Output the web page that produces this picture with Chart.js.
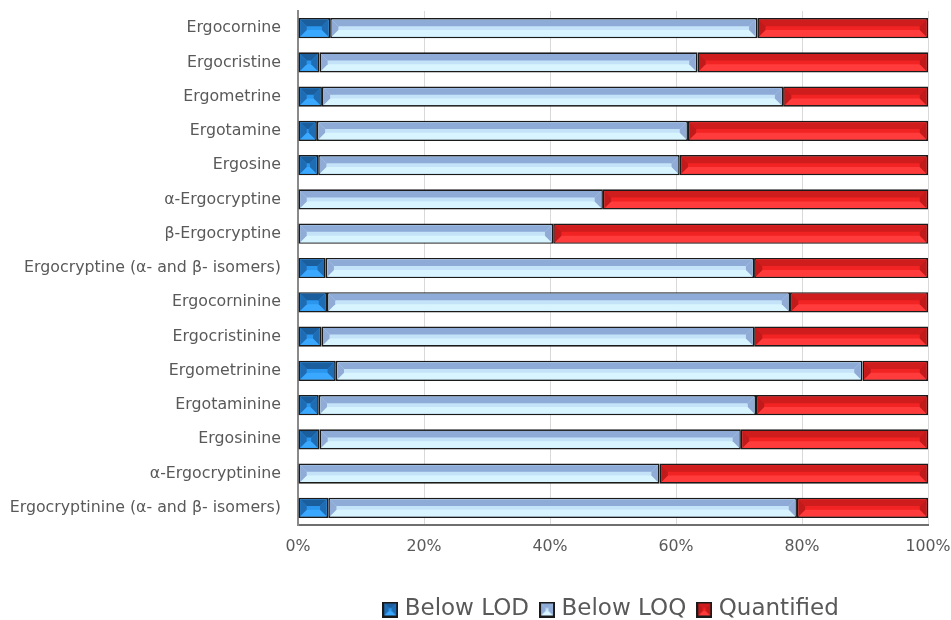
<!DOCTYPE html>
<html>
<head>
<meta charset="utf-8">
<script src="https://cdn.jsdelivr.net/npm/chart.js@4.4.1/dist/chart.umd.min.js"></script>
<style>
  html, body { margin: 0; padding: 0; background: #ffffff; overflow: hidden; }
  #wrap { width: 951px; height: 634px; }
</style>
</head>
<body>
<div id="wrap"><canvas id="chart" width="951" height="634"></canvas></div>
<script>
// Ergot alkaloids: share of samples per detection class (%)
const categories = [
  'Ergocornine',
  'Ergocristine',
  'Ergometrine',
  'Ergotamine',
  'Ergosine',
  'α-Ergocryptine',
  'β-Ergocryptine',
  'Ergocryptine (α- and β- isomers)',
  'Ergocorninine',
  'Ergocristinine',
  'Ergometrinine',
  'Ergotaminine',
  'Ergosinine',
  'α-Ergocryptinine',
  'Ergocryptinine (α- and β- isomers)'
];

const belowLOD   = [5.1, 3.4, 3.8, 3.0, 3.2, 0,    0,    4.4, 4.6, 3.7, 6.0, 3.3, 3.4, 0,    4.8];
const belowLOQ   = [67.8, 60.0, 73.2, 58.9, 57.4, 48.4, 40.5, 68.0, 73.5, 68.7, 83.6, 69.4, 66.9, 57.4, 74.4];
const quantified = [27.1, 36.6, 23.0, 38.1, 39.4, 51.6, 59.5, 27.6, 21.9, 27.6, 10.4, 27.3, 29.7, 42.6, 20.8];

const seriesNames = ['Below LOD', 'Below LOQ', 'Quantified'];
const axisTicks = [0, 20, 40, 60, 80, 100];

// facet colours for the bevelled bar look
const palettes = [
  { face: '#2a96ee', top: '#1b5e9e', bottom: '#3aa8ff', left: '#1f6cb3', right: '#1f6cb3' },
  { face: '#c4e3f8', top: '#8eabd8', bottom: '#d8f5ff', left: '#8fabd6', right: '#8fabd6' },
  { face: '#f22323', top: '#cf1d1d', bottom: '#ff3b3b', left: '#c21a1a', right: '#c21a1a' }
];
const borderCol = '#1a1a1a';
const borderW = 1.7;

function poly(ctx, pts, color) {
  ctx.beginPath();
  ctx.moveTo(pts[0][0], pts[0][1]);
  for (let i = 1; i < pts.length; i++) ctx.lineTo(pts[i][0], pts[i][1]);
  ctx.closePath();
  ctx.fillStyle = color;
  ctx.fill();
}

function bevel(ctx, l, t, r, b, pal, e) {
  const w = r - l, h = b - t;
  if (w <= 0 || h <= 0) return;
  const ex = Math.min(e, w / 2), ey = Math.min(e, h / 2);
  ctx.fillStyle = pal.face;
  ctx.fillRect(l, t, w, h);
  poly(ctx, [[l, t], [r, t], [r - ex, t + ey], [l + ex, t + ey]], pal.top);
  poly(ctx, [[l, b], [r, b], [r - ex, b - ey], [l + ex, b - ey]], pal.bottom);
  poly(ctx, [[l, t], [l + ex, t + ey], [l + ex, b - ey], [l, b]], pal.left);
  poly(ctx, [[r, t], [r - ex, t + ey], [r - ex, b - ey], [r, b]], pal.right);
}

// small bevelled squares for the legend
function legendSwatch(pal) {
  const c = document.createElement('canvas');
  c.width = 16; c.height = 16;
  const g = c.getContext('2d');
  g.fillStyle = borderCol;
  g.fillRect(0, 0, 16, 16);
  bevel(g, 2, 2, 14, 14, pal, 4.5);
  return c;
}

const bevelPlugin = {
  id: 'bevelBars',
  afterDatasetsDraw(chart) {
    const ctx = chart.ctx;
    ctx.save();
    chart.data.datasets.forEach((ds, i) => {
      const meta = chart.getDatasetMeta(i);
      if (meta.hidden) return;
      meta.data.forEach(el => {
        const p = el.getProps(['x', 'y', 'base', 'height'], true);
        const l = Math.min(p.x, p.base) + borderW;
        const r = Math.max(p.x, p.base) - borderW;
        const t = p.y - p.height / 2 + borderW;
        const b = p.y + p.height / 2 - borderW;
        bevel(ctx, l, t, r, b, palettes[i], 6.5);
      });
    });
    ctx.restore();
  }
};

const seriesData = [belowLOD, belowLOQ, quantified];
const datasets = seriesNames.map((name, i) => ({
  label: name,
  data: seriesData[i],
  backgroundColor: palettes[i].face,
  borderColor: borderCol,
  borderWidth: c => (c.raw > 0 ? borderW : 0),
  borderSkipped: false,
  barPercentage: 0.59,
  categoryPercentage: 1.0
}));

const font = 'DejaVu Sans';

new Chart(document.getElementById('chart'), {
  type: 'bar',
  data: { labels: categories, datasets },
  plugins: [bevelPlugin],
  options: {
    indexAxis: 'y',
    responsive: false,
    animation: false,
    devicePixelRatio: 1,
    layout: { padding: { top: 11, right: 0, bottom: 3, left: 0 } },
    scales: {
      x: {
        stacked: true,
        min: 0,
        max: 100,
        afterBuildTicks: s => { s.ticks = axisTicks.map(v => ({ value: v })); },
        afterFit: s => { s.height = 58; s.paddingLeft = 0; s.paddingRight = 23; },
        grid: { color: '#d9d9d9', lineWidth: 1, drawTicks: false },
        border: { display: true, color: '#6f6f6f', width: 2 },
        ticks: {
          padding: 12,
          color: '#595959',
          font: { family: font, size: 15.8 },
          callback: v => v + '%'
        }
      },
      y: {
        stacked: true,
        afterFit: s => { s.width = 298; s.paddingTop = 0; s.paddingBottom = 0; },
        grid: { display: false, drawTicks: false },
        border: { display: true, color: '#8a8a8a', width: 2 },
        ticks: {
          padding: 17,
          color: '#595959',
          font: { family: font, size: 15.8 },
          autoSkip: false
        }
      }
    },
    plugins: {
      tooltip: { enabled: false },
      legend: {
        position: 'bottom',
        fullSize: false,
        labels: {
          usePointStyle: true,
          pointStyleWidth: 6,
          padding: 15,
          color: '#595959',
          font: { family: font, size: 23 },
          generateLabels: chart => chart.data.datasets.map((ds, i) => ({
            text: ds.label,
            pointStyle: legendSwatch(palettes[i]),
            fillStyle: palettes[i].face,
            strokeStyle: borderCol,
            fontColor: '#595959',
            lineWidth: 0,
            datasetIndex: i,
            hidden: false
          }))
        }
      }
    }
  }
});
</script>
</body>
</html>
